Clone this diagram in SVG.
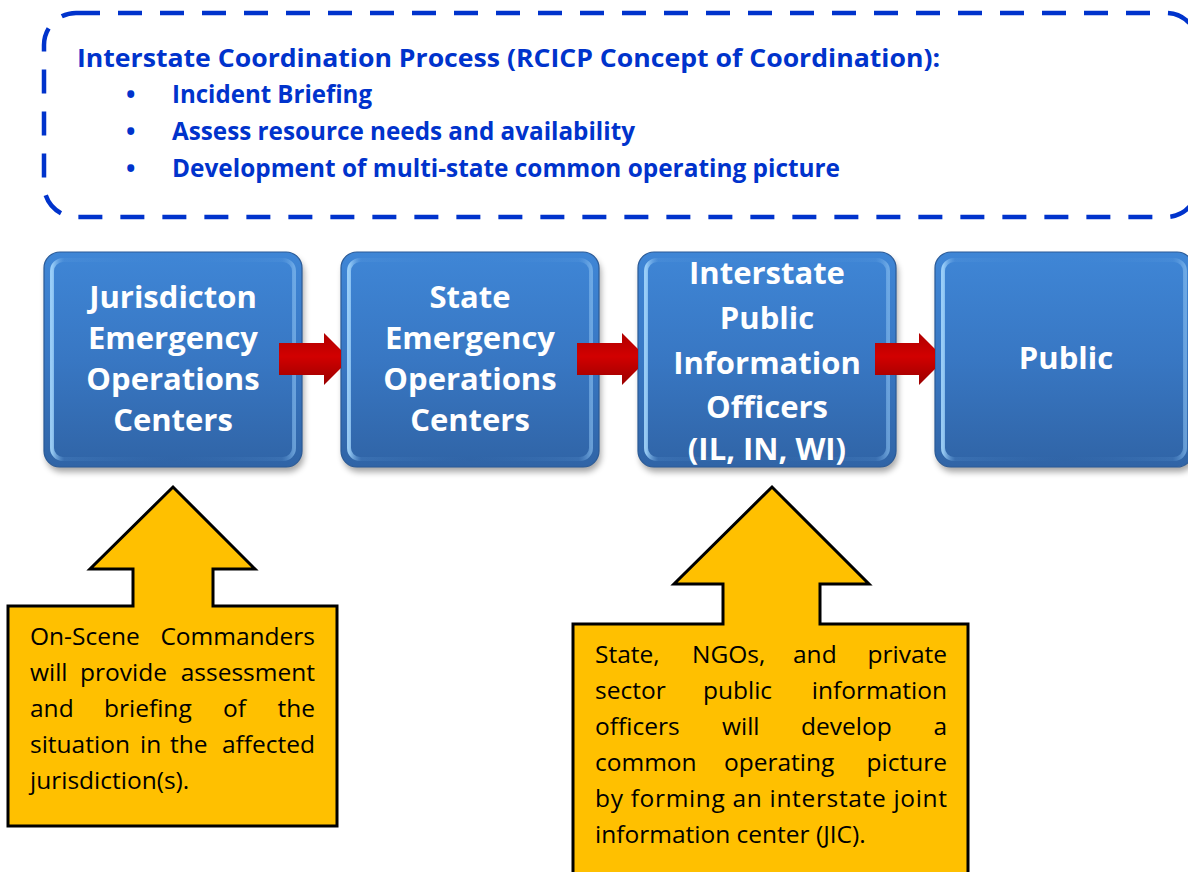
<svg xmlns="http://www.w3.org/2000/svg" width="1188" height="872" viewBox="0 0 1188 872">
<style>
.hdr{font-family:"Open Sans","Liberation Sans",sans-serif;font-weight:bold;font-size:25px;fill:#0033CC}
.lbl{font-family:"Open Sans","Liberation Sans",sans-serif;font-weight:bold;font-size:31px;fill:#FFFFFF;text-anchor:middle}
.note{font-family:"Open Sans","Liberation Sans",sans-serif;font-size:24.5px;fill:#000000}
.end{text-anchor:end}
.box{fill:url(#boxGrad);stroke:#2A5A97;stroke-width:1.2}
.bevel{fill:none;stroke:url(#bevelGrad);stroke-width:4}
.shadow{fill:#000;opacity:0.35;filter:url(#blur)}
.arrow{fill:url(#redGrad)}
.callout{fill:#FFC000;stroke:#000;stroke-width:3;stroke-linejoin:miter}
</style>
<defs>
<linearGradient id="boxGrad" x1="0" y1="0" x2="0" y2="1">
<stop offset="0" stop-color="#3F86D6"/>
<stop offset="0.5" stop-color="#3877C3"/>
<stop offset="1" stop-color="#3064A6"/>
</linearGradient>
<linearGradient id="bevelGrad" x1="0" y1="0" x2="1" y2="0">
<stop offset="0" stop-color="#A9DBFF" stop-opacity="0.85"/>
<stop offset="0.05" stop-color="#6FAAE6" stop-opacity="0.15"/>
<stop offset="0.5" stop-color="#4A8AD0" stop-opacity="0"/>
<stop offset="0.95" stop-color="#6FAAE6" stop-opacity="0.15"/>
<stop offset="1" stop-color="#8CC2F2" stop-opacity="0.6"/>
</linearGradient>
<linearGradient id="redGrad" x1="0" y1="0" x2="0" y2="1">
<stop offset="0" stop-color="#B00000"/>
<stop offset="0.45" stop-color="#D20000"/>
<stop offset="1" stop-color="#9A0000"/>
</linearGradient>
<filter id="blur" x="-10%" y="-10%" width="120%" height="130%">
<feGaussianBlur stdDeviation="3"/>
</filter>
</defs>
<rect width="1188" height="872" fill="#FFFFFF"/>

<g id="coordination-process">
<rect x="44" y="13" width="1154" height="204" rx="32" ry="32" fill="none" stroke="#0033CC" stroke-width="4.5" stroke-dasharray="24 18"/>
<text class="hdr" x="77" y="67" textLength="863" lengthAdjust="spacingAndGlyphs">Interstate Coordination Process (RCICP Concept of Coordination):</text>
<text class="hdr" x="126" y="103">•</text>
<text class="hdr" x="172" y="103" textLength="200" lengthAdjust="spacingAndGlyphs">Incident Briefing</text>
<text class="hdr" x="126" y="140">•</text>
<text class="hdr" x="172" y="140" textLength="463" lengthAdjust="spacingAndGlyphs">Assess resource needs and availability</text>
<text class="hdr" x="126" y="177">•</text>
<text class="hdr" x="172" y="177" textLength="668" lengthAdjust="spacingAndGlyphs">Development of multi-state common operating picture</text>
</g>

<g id="node-jurisdiction-eoc">
<rect class="shadow" x="46" y="257" width="258" height="215" rx="16"/>
<rect class="box" x="44" y="252" width="258" height="215" rx="16"/>
<rect class="bevel" x="52" y="260" width="242" height="199" rx="11"/>
<text class="lbl" x="173" y="308">Jurisdicton</text>
<text class="lbl" x="173" y="349">Emergency</text>
<text class="lbl" x="173" y="390">Operations</text>
<text class="lbl" x="173" y="431">Centers</text>
</g>

<g id="node-state-eoc">
<rect class="shadow" x="343" y="257" width="258" height="215" rx="16"/>
<rect class="box" x="341" y="252" width="258" height="215" rx="16"/>
<rect class="bevel" x="349" y="260" width="242" height="199" rx="11"/>
<text class="lbl" x="470" y="308">State</text>
<text class="lbl" x="470" y="349">Emergency</text>
<text class="lbl" x="470" y="390">Operations</text>
<text class="lbl" x="470" y="431">Centers</text>
</g>

<g id="node-interstate-pio">
<rect class="shadow" x="640" y="257" width="258" height="215" rx="16"/>
<rect class="box" x="638" y="252" width="258" height="215" rx="16"/>
<rect class="bevel" x="646" y="260" width="242" height="199" rx="11"/>
<text class="lbl" x="767" y="284">Interstate</text>
<text class="lbl" x="767" y="329">Public</text>
<text class="lbl" x="767" y="374">Information</text>
<text class="lbl" x="767" y="418">Officers</text>
<text class="lbl" x="767" y="460">(IL, IN, WI)</text>
</g>

<g id="node-public">
<rect class="shadow" x="937" y="257" width="258" height="215" rx="16"/>
<rect class="box" x="935" y="252" width="258" height="215" rx="16"/>
<rect class="bevel" x="943" y="260" width="242" height="199" rx="11"/>
<text class="lbl" x="1066" y="369">Public</text>
</g>

<g id="callout-on-scene">
<path class="callout" d="M8,606 H133 V569 H90 L173,487 L255,569 H213 V606 H337 V826 H8 Z"/>
<text class="note" x="30" y="645">On-Scene</text>
<text class="note end" x="315" y="645">Commanders</text>
<text class="note" x="30" y="681">will</text>
<text class="note" x="80" y="681">provide</text>
<text class="note end" x="315" y="681">assessment</text>
<text class="note" x="30" y="717">and</text>
<text class="note" x="104" y="717">briefing</text>
<text class="note" x="223" y="717">of</text>
<text class="note end" x="315" y="717">the</text>
<text class="note" x="30" y="753">situation</text>
<text class="note" x="140" y="753">in</text>
<text class="note" x="170" y="753">the</text>
<text class="note end" x="315" y="753">affected</text>
<text class="note" x="30" y="789">jurisdiction(s).</text>
</g>

<g id="callout-jic">
<path class="callout" d="M573,624 H723 V584 H674 L772,487 L869,584 H820 V624 H968 V885 H573 Z"/>
<text class="note" x="595" y="663">State,</text>
<text class="note" x="692" y="663">NGOs,</text>
<text class="note" x="793" y="663">and</text>
<text class="note end" x="947" y="663">private</text>
<text class="note" x="595" y="699">sector</text>
<text class="note" x="703" y="699">public</text>
<text class="note end" x="947" y="699">information</text>
<text class="note" x="595" y="735">officers</text>
<text class="note" x="722" y="735">will</text>
<text class="note" x="801" y="735">develop</text>
<text class="note end" x="947" y="735">a</text>
<text class="note" x="595" y="771">common</text>
<text class="note" x="724" y="771">operating</text>
<text class="note end" x="947" y="771">picture</text>
<text class="note" x="595" y="807" textLength="352" lengthAdjust="spacing">by forming an interstate joint</text>
<text class="note" x="595" y="843">information center (JIC).</text>
</g>

<g id="connectors">
<polygon class="arrow" points="279,343 324,343 324,333 341,350 341,368 324,385 324,375 279,375"/>
<polygon class="arrow" points="577,343 622,343 622,333 638,349 638,369 622,385 622,375 577,375"/>
<polygon class="arrow" points="875,343 919,343 919,333 935,349 935,369 919,385 919,375 875,375"/>
</g>
</svg>
